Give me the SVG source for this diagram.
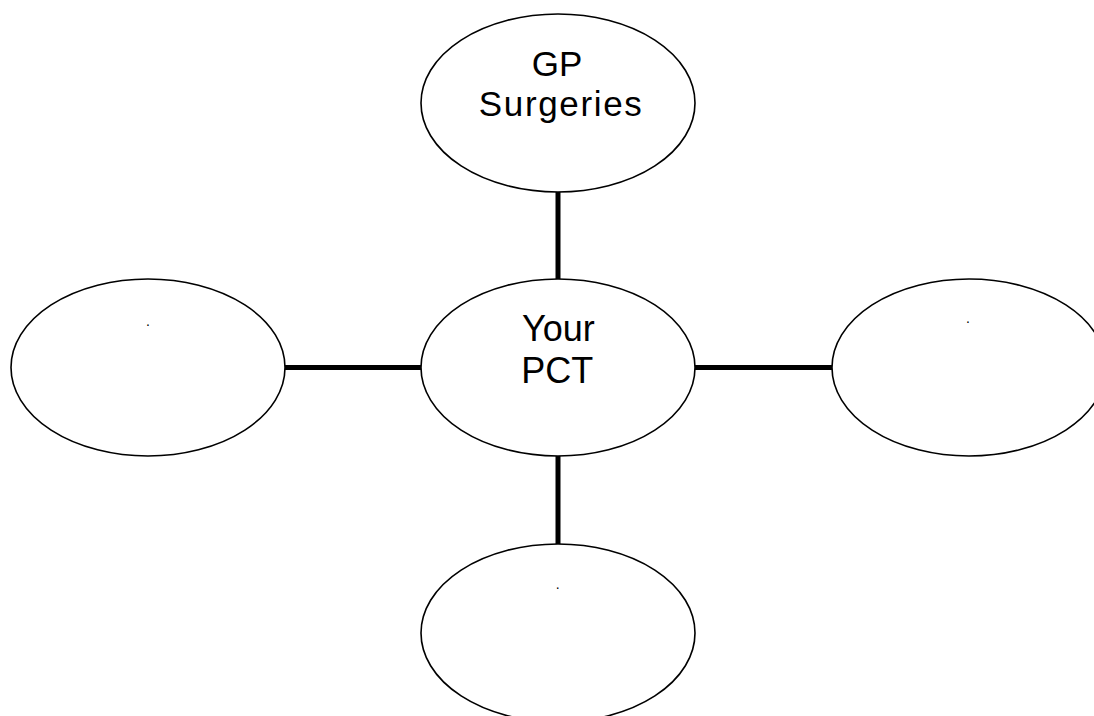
<svg xmlns="http://www.w3.org/2000/svg" width="1094" height="716" viewBox="0 0 1094 716">
<style>
.node ellipse{fill:#fff;stroke:#000;stroke-width:1.6}
.lbl{font-family:"Liberation Sans",Arial,sans-serif;font-size:35px;fill:#000;text-anchor:middle}
.dot{font-family:"Liberation Sans",Arial,sans-serif;font-size:14px;fill:#000;text-anchor:middle}
.conn line{stroke:#000;stroke-width:5}
</style>
<rect width="1094" height="716" fill="#fff"/>
<g id="connectors" class="conn">
<line x1="558" y1="191" x2="558" y2="279"/>
<line x1="285" y1="367.5" x2="421" y2="367.5"/>
<line x1="695" y1="367.5" x2="832" y2="367.5"/>
<line x1="558" y1="455" x2="558" y2="545"/>
</g>
<g id="gp" class="node">
<ellipse cx="558" cy="103" rx="137" ry="89"/>
<text class="lbl" x="557" y="76">GP</text>
<text class="lbl" x="560.3" y="116" textLength="163" lengthAdjust="spacing">Surgeries</text>
</g>
<g id="pct" class="node">
<ellipse cx="558" cy="367.5" rx="137" ry="88.5"/>
<text class="lbl" x="558.3" y="340.7" style="font-size:36px">Your</text>
<text class="lbl" x="557.3" y="382.7" style="font-size:36px">PCT</text>
</g>
<g id="left" class="node">
<ellipse cx="148" cy="367.5" rx="137" ry="88.5"/>
<text class="dot" x="148" y="325.5">.</text>
</g>
<g id="right" class="node">
<ellipse cx="969" cy="367.5" rx="137" ry="88.5"/>
<text class="dot" x="968" y="323">.</text>
</g>
<g id="bottom" class="node">
<ellipse cx="558" cy="633" rx="137" ry="89"/>
<text class="dot" x="557.7" y="589">.</text>
</g>
</svg>
